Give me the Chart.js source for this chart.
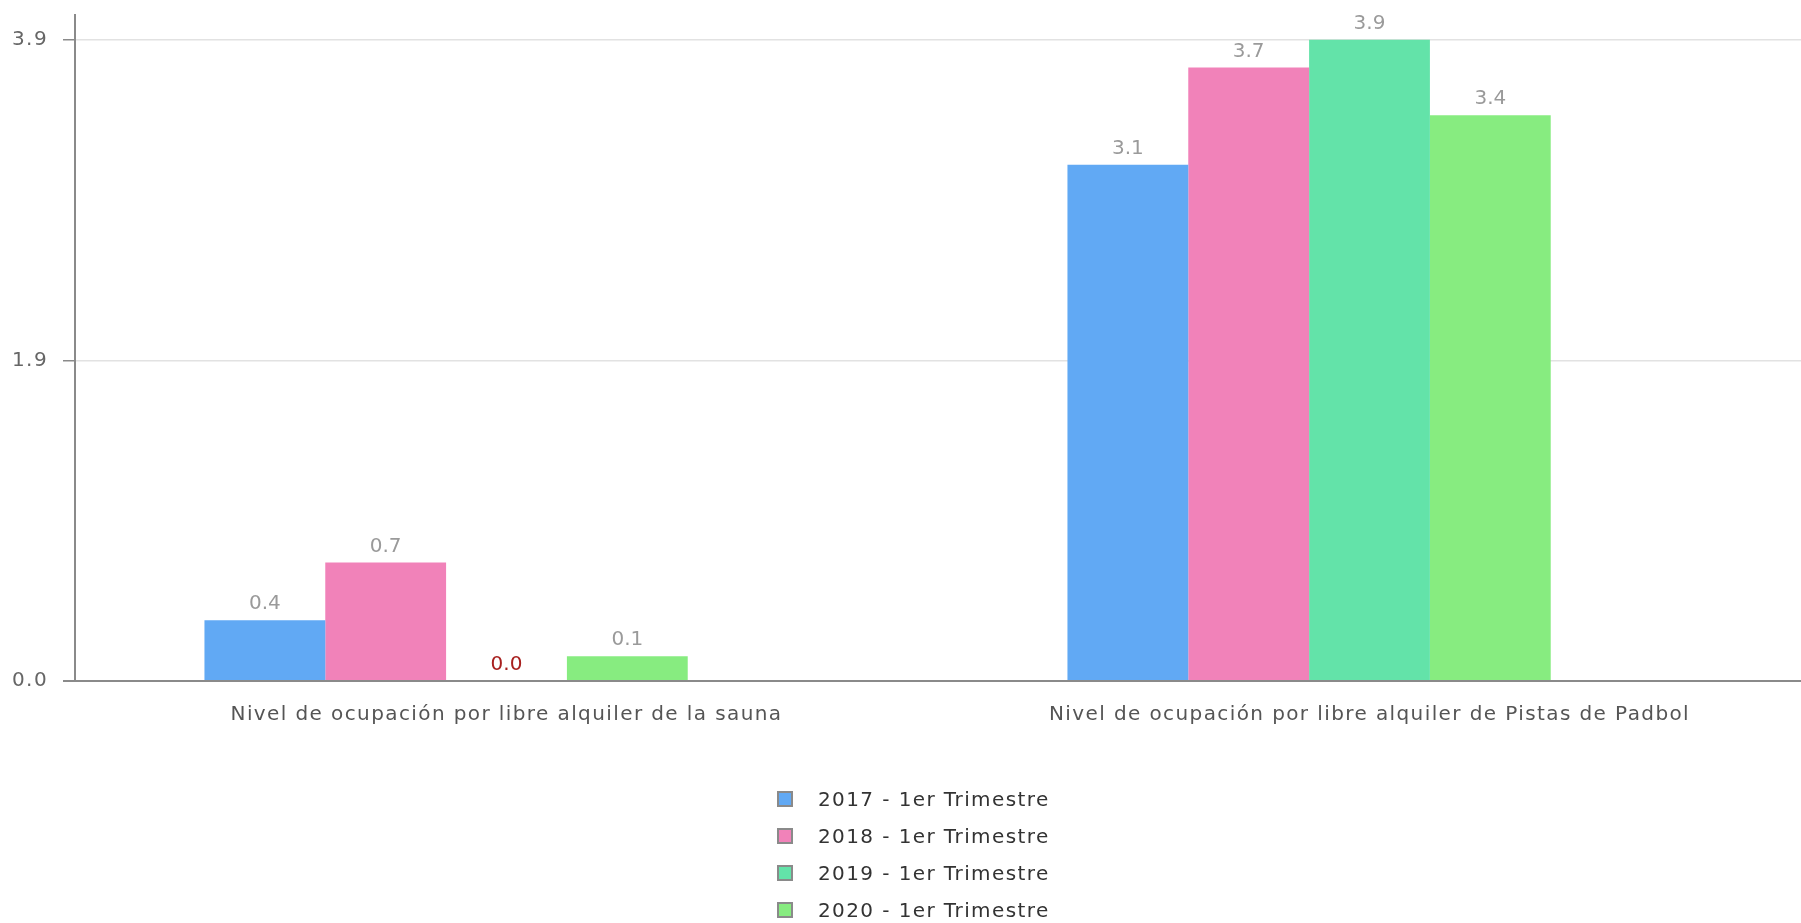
<!DOCTYPE html>
<html>
<head>
<meta charset="utf-8">
<script src="https://cdn.jsdelivr.net/npm/chart.js@4/dist/chart.umd.min.js"></script>
<style>
  html, body { margin: 0; padding: 0; background: #fff; }
  #wrap { position: relative; width: 1801px; height: 923px; overflow: hidden; }
  #legend { position: absolute; left: 777px; top: 780px; font-family: "DejaVu Sans"; font-size: 20px; letter-spacing: 1.4px; color: #333; }
  #legend .row { height: 37px; display: flex; align-items: center; }
  #legend .box { width: 16px; height: 16px; box-sizing: border-box; border: 2px solid #8a8a8a; margin-right: 25px; }
</style>
</head>
<body>
<div id="wrap">
  <canvas id="myChart" width="1801" height="923"></canvas>
  <div id="legend"></div>
</div>
<script>
const chart = document.getElementById("myChart");

// categories
const labels = [
  "Nivel de ocupación por libre alquiler de la sauna",
  "Nivel de ocupación por libre alquiler de Pistas de Padbol",
];
// series names
const seriesNames = [
  "2017 - 1er Trimestre",
  "2018 - 1er Trimestre",
  "2019 - 1er Trimestre",
  "2020 - 1er Trimestre",
];
// values per series
const values2017 = [0.37, 3.14];
const values2018 = [0.72, 3.73];
const values2019 = [0, 3.9];
const values2020 = [0.15, 3.44];
// empty slot kept by the original chart (no data)
const valuesEmpty = [null, null];
// y tick labels
const yTicks = [0, 1.95, 3.9];

const colors = ["#61a9f4", "#f182b9", "#63e3a9", "#87ec80"];
const seriesValues = [values2017, values2018, values2019, values2020];

const datasets = seriesValues.map((data, i) => ({
  label: seriesNames[i],
  data: data,
  backgroundColor: colors[i],
  borderWidth: 0,
}));
datasets.push({ label: "", data: valuesEmpty, backgroundColor: "transparent" });

// wider letter spacing, like the original text
const spacing = {
  id: "spacing",
  beforeUpdate(c) { c.ctx.letterSpacing = "1.4px"; },
  beforeDraw(c) { c.ctx.letterSpacing = "1.4px"; },
};

// value labels above the bars
const valueLabels = {
  id: "valueLabels",
  afterDatasetsDraw(c) {
    const ctx = c.ctx;
    ctx.save();
    ctx.letterSpacing = "0px";
    ctx.font = "20px 'DejaVu Sans'";
    ctx.textAlign = "center";
    ctx.textBaseline = "alphabetic";
    c.data.datasets.forEach((ds, i) => {
      if (i >= seriesValues.length) return;
      const meta = c.getDatasetMeta(i);
      meta.data.forEach((bar, j) => {
        const v = ds.data[j];
        if (v === null) return;
        ctx.fillStyle = v === 0 ? "#a8201f" : "#9a9a9a";
        ctx.fillText(v.toFixed(1), bar.x, bar.y - 11);
      });
    });
    ctx.restore();
  },
};

const myChart = new Chart(chart, {
  type: "bar",
  data: { labels: labels, datasets: datasets },
  plugins: [spacing, valueLabels],
  options: {
    responsive: false,
    animation: false,
    layout: { padding: { top: 15, right: -6, left: 0, bottom: 0 } },
    plugins: { legend: { display: false }, tooltip: { enabled: false } },
    datasets: { bar: { categoryPercentage: 0.7, barPercentage: 1.0 } },
    scales: {
      x: {
        grid: { display: false, drawTicks: false },
        border: { display: true, color: "#8a8a8a", width: 2 },
        ticks: {
          color: "#555",
          font: { family: "DejaVu Sans", size: 20 },
          padding: 22,
          maxRotation: 0,
        },
        afterFit(scale) { scale.height = 923 - 681; },
      },
      y: {
        min: 0,
        max: 4.05,
        afterBuildTicks(scale) {
          scale.ticks = yTicks.map((v) => ({ value: v }));
        },
        afterFit(scale) {
          scale.width = 75;
          scale.paddingTop = 0;
          scale.paddingBottom = 0;
        },
        grid: {
          color: (ctx) => (ctx.tick && ctx.tick.value === 0 ? "#8a8a8a" : "#e2e2e2"),
          lineWidth: (ctx) => (ctx.tick && ctx.tick.value === 0 ? 2 : 1.5),
          tickColor: "#8a8a8a",
          tickLength: 12,
        },
        border: { display: true, color: "#8a8a8a", width: 2 },
        ticks: {
          color: "#666",
          font: { family: "DejaVu Sans", size: 20 },
          padding: 15,
          callback: (v) => Number(v).toFixed(1),
        },
      },
    },
  },
});

// legend list
const legend = document.getElementById("legend");
seriesNames.forEach((name, i) => {
  const row = document.createElement("div");
  row.className = "row";
  const box = document.createElement("span");
  box.className = "box";
  box.style.background = colors[i];
  const txt = document.createElement("span");
  txt.textContent = name;
  row.appendChild(box);
  row.appendChild(txt);
  legend.appendChild(row);
});
</script>
</body>
</html>
